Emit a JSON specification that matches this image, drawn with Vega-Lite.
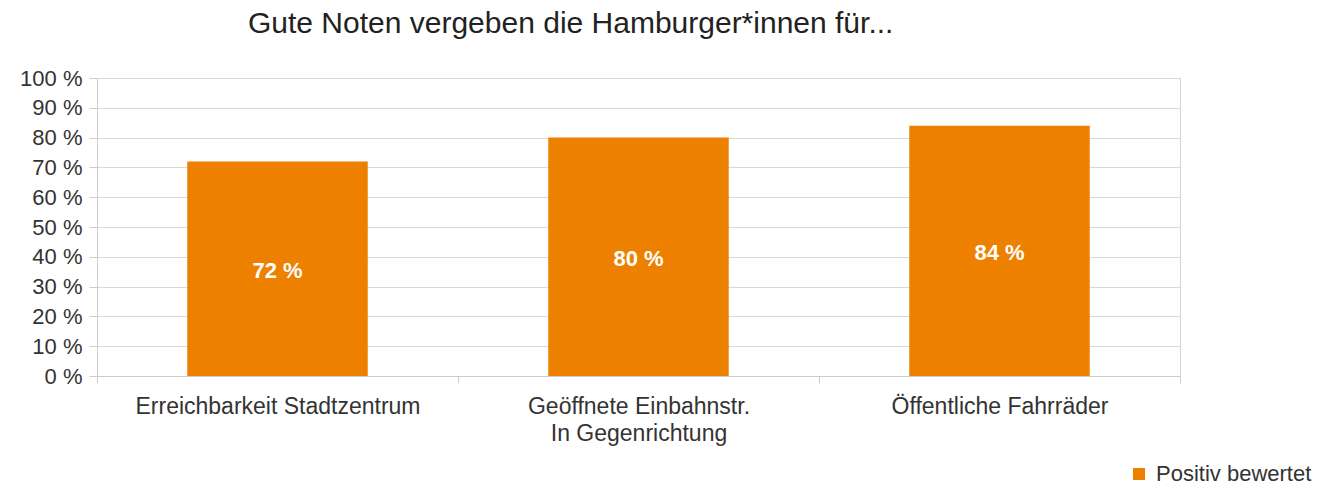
{
  "$schema": "https://vega.github.io/schema/vega-lite/v6.json",
  "width": 1083,
  "height": 298,
  "autosize": {"type": "none"},
  "padding": {"left": 97, "top": 78, "right": 144, "bottom": 110},
  "background": "white",
  "config": {
    "font": "Liberation Sans",
    "view": {"stroke": "#d4d4d4", "strokeWidth": 1},
    "axisY": {
      "title": null,
      "values": [0, 10, 20, 30, 40, 50, 60, 70, 80, 90, 100],
      "labelExpr": "datum.value + ' %'",
      "labelFontSize": 22,
      "labelColor": "#333333",
      "labelPadding": 7,
      "tickColor": "#cccccc",
      "tickSize": 8,
      "domainColor": "#cccccc",
      "gridColor": "#d9d9d9",
      "labelFlush": false,
      "labelOverlap": false
    }
  },
  "title": {
    "text": "Gute Noten vergeben die Hamburger*innen für...",
    "anchor": "start",
    "frame": "group",
    "dx": 151,
    "offset": 28,
    "fontSize": 30,
    "fontWeight": "normal",
    "color": "#222222",
    "font": "Liberation Sans"
  },
  "data": {
    "values": [
      {"kategorie": "Erreichbarkeit Stadtzentrum", "wert": 72, "serie": "Positiv bewertet"},
      {"kategorie": "Geöffnete Einbahnstr.|In Gegenrichtung", "wert": 80, "serie": "Positiv bewertet"},
      {"kategorie": "Öffentliche Fahrräder", "wert": 84, "serie": "Positiv bewertet"}
    ]
  },
  "encoding": {
    "x": {
      "field": "kategorie",
      "type": "nominal",
      "sort": null,
      "scale": {"paddingInner": 0, "paddingOuter": 0},
      "axis": {
        "title": null,
        "labelAngle": 0,
        "labelExpr": "split(datum.label, '|')",
        "labelFontSize": 23,
        "labelColor": "#333333",
        "labelPadding": 12,
        "labelLineHeight": 27,
        "tickBand": "extent",
        "tickColor": "#cccccc",
        "tickSize": 7,
        "domainColor": "#cccccc",
        "grid": false,
        "labelLimit": 400
      }
    }
  },
  "layer": [
    {
      "mark": {"type": "bar", "width": {"band": 0.5}},
      "encoding": {
        "y": {
          "field": "wert",
          "type": "quantitative",
          "scale": {"domain": [0, 100]},
          "title": null
        },
        "color": {
          "field": "serie",
          "type": "nominal",
          "scale": {"range": ["#ee8000"]},
          "legend": {
            "title": null,
            "orient": "none",
            "legendX": 1031,
            "legendY": 385,
            "symbolType": "square",
            "symbolSize": 144,
            "labelFontSize": 22,
            "labelColor": "#333333",
            "labelOffset": 6
          }
        }
      }
    },
    {
      "transform": [
        {"calculate": "datum.wert / 2", "as": "mitte"},
        {"calculate": "datum.wert + ' %'", "as": "beschriftung"}
      ],
      "mark": {"type": "text", "color": "white", "fontSize": 22, "fontWeight": "bold", "dy": 2},
      "encoding": {
        "y": {"field": "mitte", "type": "quantitative", "title": null},
        "text": {"field": "beschriftung"}
      }
    }
  ]
}
